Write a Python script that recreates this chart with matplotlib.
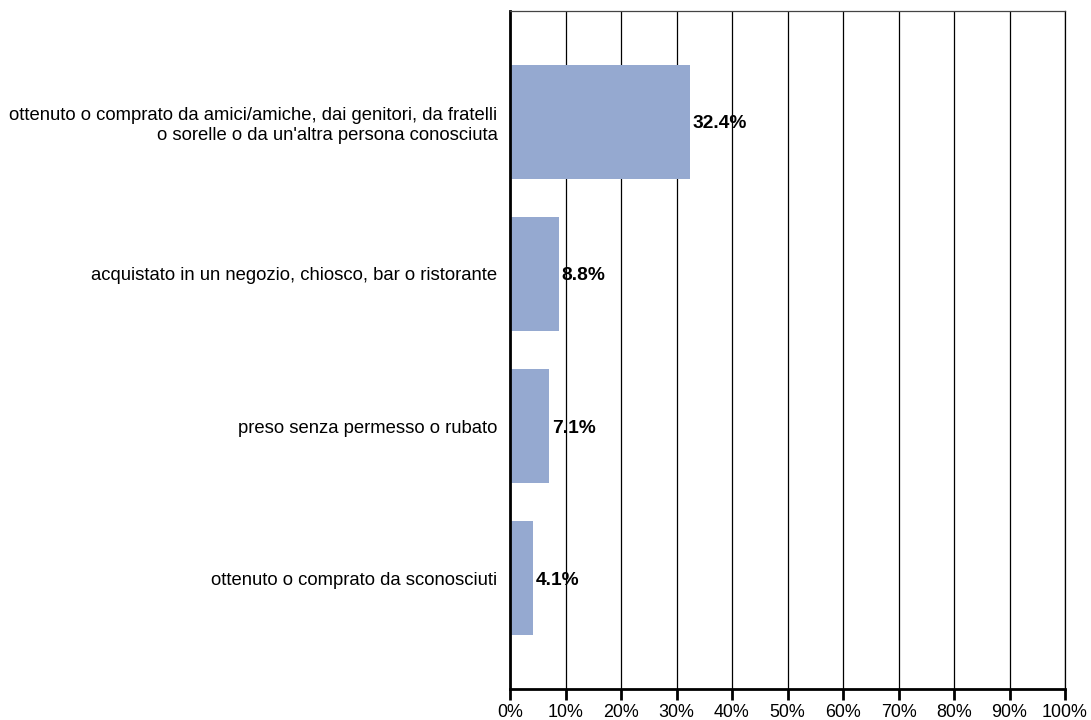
import matplotlib
matplotlib.use("Agg")
import matplotlib.pyplot as plt
from matplotlib.ticker import MultipleLocator, FuncFormatter

plt.rcParams['font.family'] = ['Liberation Sans', 'DejaVu Sans']

categories = [
    "ottenuto o comprato da amici/amiche, dai genitori, da fratelli\no sorelle o da un'altra persona conosciuta",
    "acquistato in un negozio, chiosco, bar o ristorante",
    "preso senza permesso o rubato",
    "ottenuto o comprato da sconosciuti",
]
values = [32.4, 8.8, 7.1, 4.1]
value_labels = ["32.4%", "8.8%", "7.1%", "4.1%"]

fig = plt.figure(figsize=(10.91, 7.2), dpi=100)
ax = fig.add_axes([510/1091, 1-689/720, 555/1091, 678/720])

ypos = list(range(len(categories)))
ax.set_axisbelow(True)
ax.xaxis.grid(True, color='black', linewidth=0.9)
ax.barh(ypos, values, height=0.745, color='#95A9D0', zorder=2)
for y, v, lab in zip(ypos, values, value_labels):
    ax.text(v + 0.5, y, lab, va='center_baseline', ha='left', fontsize=13.8, fontweight='bold', zorder=3)

ax.set_xlim(0, 100)
ax.set_ylim(3.73, -0.73)
ax.set_yticks(ypos)
ax.set_yticklabels(categories, fontsize=13.3, ha='right', multialignment='right')
ax.xaxis.set_major_locator(MultipleLocator(10))
ax.xaxis.set_major_formatter(FuncFormatter(lambda x, p: f"{int(round(x))}%"))
ax.tick_params(axis='x', length=8, width=2, labelsize=12.9, pad=3)
ax.tick_params(axis='y', length=0, pad=9)

ax.spines['left'].set_linewidth(2)
ax.spines['bottom'].set_linewidth(2)
ax.spines['top'].set_linewidth(0.9)
ax.spines['top'].set_color('#444444')
ax.spines['right'].set_linewidth(0.9)

fig.savefig('out.png', dpi=100)
